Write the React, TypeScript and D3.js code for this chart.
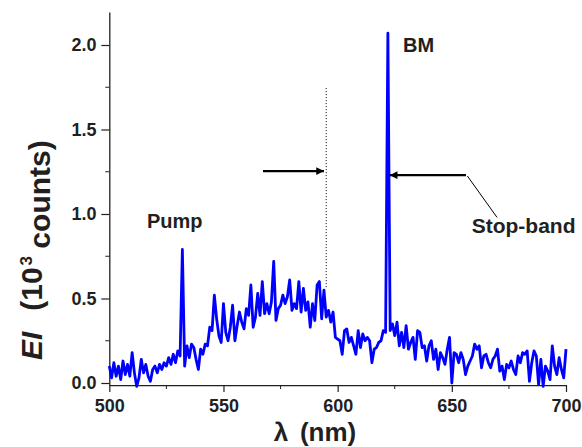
import React, { useEffect, useRef } from "react"
import * as d3 from "d3"

// wavelength grid, 1 nm steps from 500 to 700
const wavelengths: number[] = d3.range(500, 701, 1)

// emission intensity (10^3 counts)
const intensity: number[] = [
  0.1, 0.03, 0.12, 0.04, 0.1, 0.02, 0.13, 0.05, 0.11, 0.04,
  0.18, 0.06, -0.02, 0.03, 0.14, 0.06, 0.11, 0.04, 0.01, 0.08,
  0.1, 0.06, 0.11, 0.08, 0.12, 0.1, 0.15, 0.11, 0.17, 0.12,
  0.19, 0.16, 0.79, 0.1, 0.22, 0.15, 0.23, 0.21, 0.14, 0.08,
  0.2, 0.17, 0.23, 0.22, 0.33, 0.31, 0.52, 0.38, 0.28, 0.24,
  0.47, 0.3, 0.25, 0.33, 0.46, 0.25, 0.34, 0.42, 0.36, 0.32,
  0.44, 0.4, 0.58, 0.33, 0.39, 0.53, 0.4, 0.6, 0.41, 0.47,
  0.41, 0.48, 0.72, 0.37, 0.44, 0.46, 0.52, 0.47, 0.51, 0.61,
  0.43, 0.47, 0.44, 0.6, 0.42, 0.56, 0.43, 0.48, 0.33, 0.47,
  0.37, 0.58, 0.6, 0.38, 0.55, 0.39, 0.43, 0.36, 0.42, 0.27,
  0.26, 0.25, 0.17, 0.31, 0.32, 0.24, 0.27, 0.22, 0.17, 0.31,
  0.21, 0.29, 0.25, 0.27, 0.25, 0.12, 0.2, 0.21, 0.24, 0.25,
  0.31, 0.3, 2.07, 0.31, 0.35, 0.28, 0.36, 0.22, 0.3, 0.21,
  0.34, 0.2, 0.24, 0.27, 0.14, 0.31, 0.3, 0.21, 0.22, 0.13,
  0.22, 0.25, 0.14, 0.2, 0.08, 0.18, 0.15, 0.11, 0.2, 0.27,
  0.0, 0.18, 0.17, 0.12, 0.18, 0.14, 0.05, 0.1, 0.13, 0.16,
  0.23, 0.2, 0.22, 0.09, 0.16, 0.17, 0.12, 0.09, 0.14, 0.16,
  0.2, 0.07, 0.1, 0.02, 0.11, 0.09, 0.13, 0.08, 0.05, 0.16,
  0.12, 0.18, 0.17, 0.19, 0.01, 0.12, 0.19, 0.16, -0.01, 0.14,
  -0.02, 0.1, 0.07, 0.02, 0.22, 0.1, 0.05, 0.15, 0.08, 0.03,
  0.2,
]

const xTicks = [500, 550, 600, 650, 700]
const xMinor = [525, 575, 625, 675]
const yTicks = [0, 0.5, 1.0, 1.5, 2.0]
const yMinor = [0.25, 0.75, 1.25, 1.75]

const App = () => {
  const svgRef = useRef<SVGSVGElement | null>(null)

  useEffect(() => {
    if (!svgRef.current) return
    const svg = d3.select(svgRef.current)
    svg.selectAll("*").remove()

    const ink = "#231f20"
    const font = "'Liberation Sans', Arial, sans-serif"

    const x = d3.scaleLinear().domain([500, 700]).range([109.3, 566])
    const y = d3.scaleLinear().domain([0, 2]).range([383, 45])
    const yAxisScale = d3.scaleLinear().domain([-0.012, 2.195]).range([y(-0.012), y(2.195)])
    const axisY = y(-0.012)

    // x axis
    const gx = svg.append("g").attr("transform", `translate(0,${axisY})`)
    gx.call(d3.axisBottom(x).tickValues(xTicks).tickSize(7).tickSizeOuter(0).tickFormat(d3.format("d")))
    gx.append("g").selectAll("line").data(xMinor).enter().append("line")
      .attr("x1", d => x(d)).attr("x2", d => x(d)).attr("y1", 0).attr("y2", 4)
      .attr("stroke", ink)

    // y axis
    const gy = svg.append("g").attr("transform", `translate(${x(500)},0)`)
    gy.call(d3.axisLeft(yAxisScale).tickValues(yTicks).tickSize(8).tickSizeOuter(0).tickFormat(d3.format(".1f")))
    gy.append("g").selectAll("line").data(yMinor).enter().append("line")
      .attr("y1", d => y(d)).attr("y2", d => y(d)).attr("x1", 0).attr("x2", -4)
      .attr("stroke", ink)

    svg.selectAll(".domain").attr("stroke", ink).attr("stroke-width", 1.3)
    svg.selectAll(".tick line").attr("stroke", ink).attr("stroke-width", 1.2)
    svg.selectAll(".tick text")
      .attr("fill", ink)
      .style("font-family", font)
      .style("font-weight", "bold")
      .style("font-size", "18px")
    gx.selectAll(".tick text").attr("dy", "0.95em")
    gy.selectAll(".tick text").attr("dx", "-0.1em")

    // spectrum
    const line = d3.line<number>()
      .x((d, i) => x(wavelengths[i]))
      .y(d => y(d))
    svg.append("path")
      .datum(intensity)
      .attr("d", line)
      .attr("fill", "none")
      .attr("stroke", "#0000ff")
      .attr("stroke-width", 2.8)
      .attr("stroke-linejoin", "round")

    // dotted stop-band edge
    svg.append("line")
      .attr("x1", x(595)).attr("x2", x(595))
      .attr("y1", y(1.745)).attr("y2", y(0.56))
      .attr("stroke", "#000").attr("stroke-width", 1)
      .attr("stroke-dasharray", "1,2")

    // arrows
    const defs = svg.append("defs")
    defs.append("marker")
      .attr("id", "head")
      .attr("viewBox", "0 0 10 10")
      .attr("refX", 10).attr("refY", 5)
      .attr("markerWidth", 4.5).attr("markerHeight", 3.5)
      .attr("markerUnits", "strokeWidth")
      .attr("orient", "auto")
      .append("path").attr("d", "M0,0 L10,5 L0,10 Z").attr("fill", "#000")

    svg.append("line")
      .attr("x1", x(567.3)).attr("x2", x(594))
      .attr("y1", y(1.254)).attr("y2", y(1.254))
      .attr("stroke", "#000").attr("stroke-width", 2.2)
      .attr("marker-end", "url(#head)")

    svg.append("line")
      .attr("x1", x(656.2)).attr("x2", x(622.8))
      .attr("y1", y(1.23)).attr("y2", y(1.23))
      .attr("stroke", "#000").attr("stroke-width", 2.2)
      .attr("marker-end", "url(#head)")

    svg.append("line")
      .attr("x1", x(656.8)).attr("x2", x(669.8))
      .attr("y1", y(1.225)).attr("y2", y(0.98))
      .attr("stroke", "#000").attr("stroke-width", 1)

    // annotations
    const label = (text: string, nm: number, v: number, size: number) =>
      svg.append("text")
        .attr("x", x(nm)).attr("y", y(v))
        .attr("fill", ink)
        .style("font-family", font)
        .style("font-weight", "bold")
        .style("font-size", `${size}px`)
        .text(text)
    label("Pump", 516.5, 0.917, 20)
    label("BM", 628.6, 1.96, 20)
    label("Stop-band", 658.7, 0.888, 21)

    // axis titles
    const xt = svg.append("text")
      .attr("x", 315).attr("y", 441)
      .attr("text-anchor", "middle")
      .attr("fill", ink)
      .style("font-family", font)
      .style("font-weight", "bold")
      .style("font-size", "26px")
    xt.append("tspan").text("λ")
    xt.append("tspan").attr("dx", "0.45em").text("(nm)")

    const yt = svg.append("text")
      .attr("transform", `translate(42,360) rotate(-90)`)
      .attr("text-anchor", "start")
      .attr("fill", ink)
      .style("font-family", font)
      .style("font-weight", "bold")
      .style("font-size", "30px")
    yt.append("tspan").style("font-style", "italic").text("EI")
    yt.append("tspan").attr("dx", "0.7em").text("(10")
    yt.append("tspan").attr("dy", "-0.6em").attr("dx", "0.1em").style("font-size", "17px").text("3")
    yt.append("tspan").attr("dy", "0.6em").attr("dx", "0.25em").text("counts)")
  }, [])

  return (
    <svg
      ref={svgRef}
      width={582}
      height={447}
      style={{ position: "absolute", left: 0, top: 0, background: "#fff" }}
    />
  )
}

export default App
